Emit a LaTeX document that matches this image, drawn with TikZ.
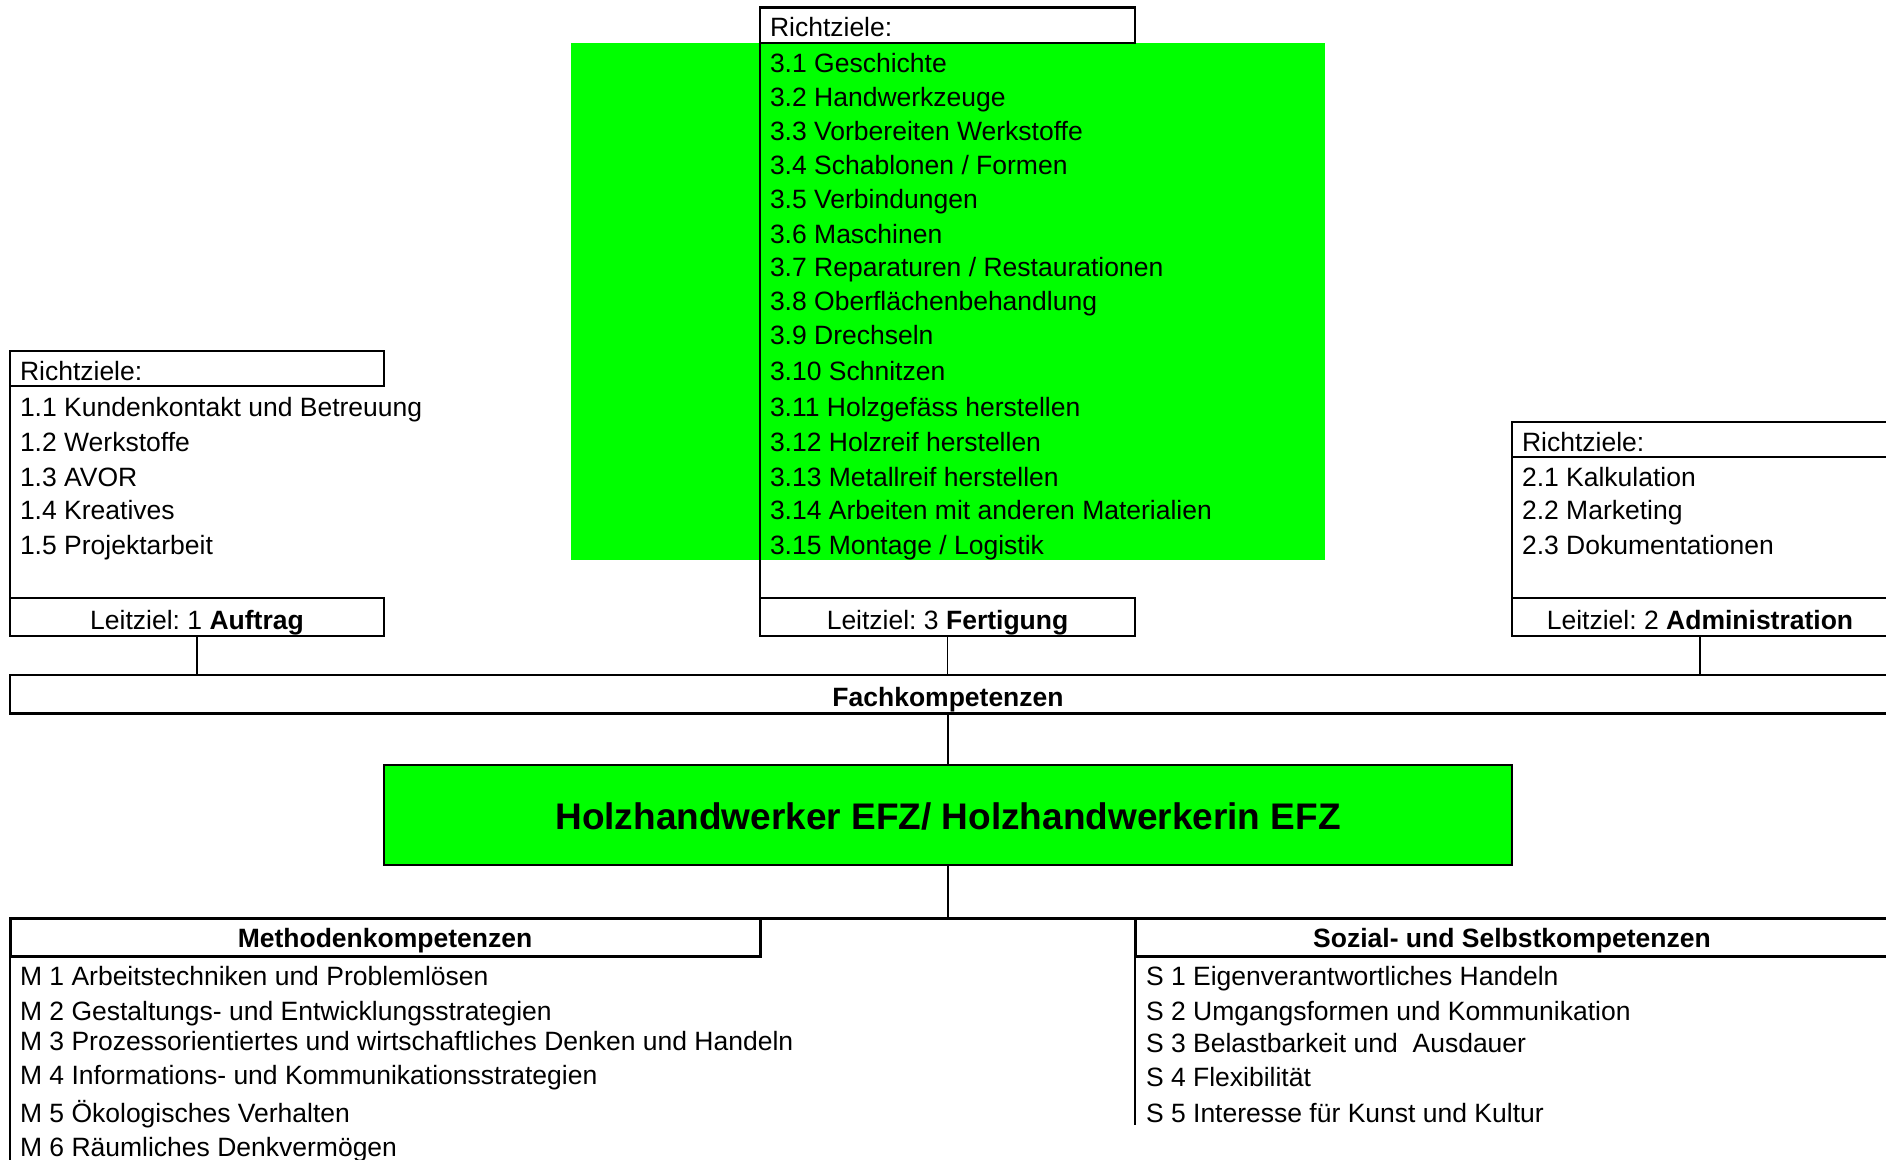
\documentclass[tikz,border=0pt]{standalone}
\usepackage{fontspec}
\setmainfont{Liberation Sans}
\definecolor{hgreen}{HTML}{00FF00}
\frenchspacing
\begin{document}
\begin{tikzpicture}[x=1pt,y=-1pt,
  every node/.style={font=\fontsize{26.5}{32}\selectfont, inner sep=0pt, outer sep=0pt},
  txt/.style={anchor=base west},
  ctxt/.style={anchor=base},
  frame/.style={draw, line width=2.2pt, anchor=north west, minimum width=#1},
  lframe/.style={draw, line width=2.6pt, anchor=north west, minimum width=#1, minimum height=38pt},
  vline/.style={line width=2pt},
  conn/.style={line width=1.3pt},
  thickline/.style={line width=3pt}
]
\useasboundingbox (0,0) rectangle (1886,1159);

% ---------- list 3 (Fertigung) ----------
\node[fill=hgreen, anchor=north west, minimum width=754pt, minimum height=517pt] (g3) at (571,43) {};
\node[frame=375pt, minimum height=35.5pt] (r3) at (760,7.5) {};
\node[txt] (r3t) at (770,36.5) {Richtziele:};
\node[txt] (i31) at (770,72) {3.1 Geschichte};
\node[txt] (i32) at (770,106) {3.2 Handwerkzeuge};
\node[txt] (i33) at (770,140) {3.3 Vorbereiten Werkstoffe};
\node[txt] (i34) at (770,174.3) {3.4 Schablonen / Formen};
\node[txt] (i35) at (770,208) {3.5 Verbindungen};
\node[txt] (i36) at (770,243) {3.6 Maschinen};
\node[txt] (i37) at (770,276.5) {3.7 Reparaturen / Restaurationen};
\node[txt] (i38) at (770,310) {3.8 Oberflächenbehandlung};
\node[txt] (i39) at (770,344) {3.9 Drechseln};
\node[txt] (i310) at (770,380) {3.10 Schnitzen};
\node[txt] (i311) at (770,416) {3.11 Holzgefäss herstellen};
\node[txt] (i312) at (770,451) {3.12 Holzreif herstellen};
\node[txt] (i313) at (770,486) {3.13 Metallreif herstellen};
\node[txt] (i314) at (770,519.5) {3.14 Arbeiten mit anderen Materialien};
\node[txt] (i315) at (770,554.4) {3.15 Montage / Logistik};
\node[lframe=375pt] (l3) at (760,598) {};
\node[ctxt] (l3t) at (947.5,629) {Leitziel: 3 \textbf{Fertigung}};
\draw[vline] (r3.south west) -- (l3.north west);

% ---------- list 1 (Auftrag) ----------
\node[frame=374pt, minimum height=35pt] (r1) at (10,351) {};
\node[txt] (r1t) at (20,380) {Richtziele:};
\node[txt] (i11) at (20,416) {1.1 Kundenkontakt und Betreuung};
\node[txt] (i12) at (20,451) {1.2 Werkstoffe};
\node[txt] (i13) at (20,486) {1.3 AVOR};
\node[txt] (i14) at (20,519.5) {1.4 Kreatives};
\node[txt] (i15) at (20,554.4) {1.5 Projektarbeit};
\node[lframe=374pt] (l1) at (10,598) {};
\node[ctxt] (l1t) at (197,629) {Leitziel: 1 \textbf{Auftrag}};
\draw[vline] (r1.south west) -- (l1.north west);

% ---------- list 2 (Administration) ----------
\node[frame=376pt, minimum height=35pt] (r2) at (1512,422) {};
\node[txt] (r2t) at (1522,451) {Richtziele:};
\node[txt] (i21) at (1522,486) {2.1 Kalkulation};
\node[txt] (i22) at (1522,519.5) {2.2 Marketing};
\node[txt] (i23) at (1522,554.4) {2.3 Dokumentationen};
\node[lframe=376pt] (l2) at (1512,598) {};
\node[ctxt] (l2t) at (1700,629) {Leitziel: 2 \textbf{Administration}};
\draw[vline] (r2.south west) -- (l2.north west);

% ---------- Fachkompetenzen ----------
\node[draw, line width=2.7pt, anchor=north west, minimum width=1880pt, minimum height=38.5pt] (fach) at (10,675) {};
\node[ctxt] (facht) at (948,706.5) {\textbf{Fachkompetenzen}};
\draw[conn] (l1.south) -- (l1.south |- fach.north);
\draw[conn] (l3.south) -- (l3.south |- fach.north);
\draw[conn] (l2.south) -- (l2.south |- fach.north);

% ---------- main title ----------
\node[draw, fill=hgreen, line width=2.6pt, anchor=north west, minimum width=1128pt, minimum height=100pt] (main) at (384,765) {};
\node[ctxt, font=\fontsize{37}{44}\selectfont\bfseries] (maint) at (948,829.5) {Holzhandwerker EFZ/ Holzhandwerkerin EFZ};
\draw[conn] (fach.south -| main.north) -- (main.north);

% ---------- Methoden / Sozial ----------
\node[draw, line width=3pt, anchor=north west, minimum width=750pt, minimum height=38pt] (meth) at (10,918) {};
\node[ctxt] (metht) at (385,947.5) {\textbf{Methodenkompetenzen}};
\node[draw, line width=3pt, anchor=north west, minimum width=756pt, minimum height=38pt] (soz) at (1135,918) {};
\node[ctxt] (sozt) at (1512,947.5) {\textbf{Sozial- und Selbstkompetenzen}};
\draw[thickline] (meth.north east) -- (soz.north west);
\draw[conn] (main.south) -- (main.south |- meth.north);

\coordinate (mend) at (10,1165);
\coordinate (send) at (1135,1125);
\draw[vline] (meth.south west) -- (mend);
\draw[vline] (soz.south west) -- (send);

\node[txt] (m1) at (20,985) {M 1 Arbeitstechniken und Problemlösen};
\node[txt] (m2) at (20,1020) {M 2 Gestaltungs- und Entwicklungsstrategien};
\node[txt] (m3) at (20,1050) {M 3 Prozessorientiertes und wirtschaftliches Denken und Handeln};
\node[txt] (m4) at (20,1084) {M 4 Informations- und Kommunikationsstrategien};
\node[txt] (m5) at (20,1122) {M 5 Ökologisches Verhalten};
\node[txt] (m6) at (20,1156) {M 6 Räumliches Denkvermögen};

\node[txt] (s1) at (1146,985) {S 1 Eigenverantwortliches Handeln};
\node[txt] (s2) at (1146,1020) {S 2 Umgangsformen und Kommunikation};
\node[txt] (s3) at (1146,1052) {S 3 Belastbarkeit und\ \ Ausdauer};
\node[txt] (s4) at (1146,1086) {S 4 Flexibilität};
\node[txt] (s5) at (1146,1122) {S 5 Interesse für Kunst und Kultur};
\end{tikzpicture}
\end{document}
